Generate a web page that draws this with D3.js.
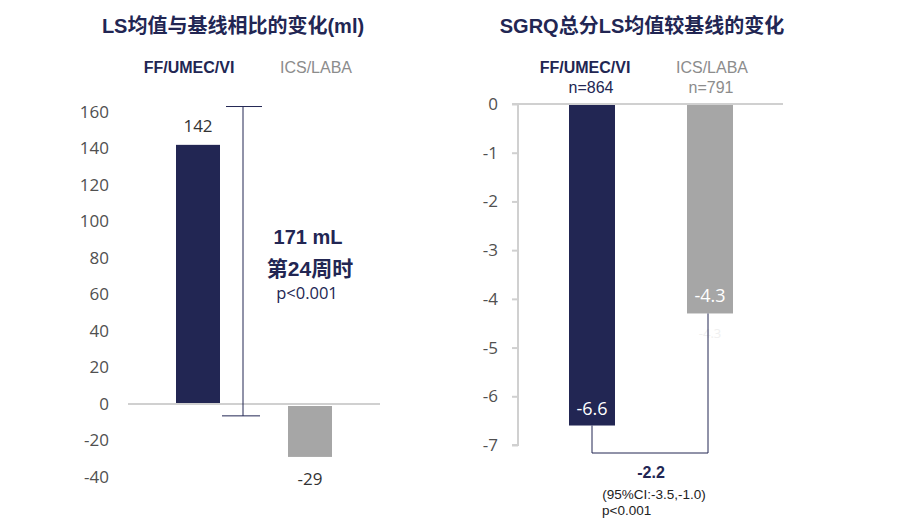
<!DOCTYPE html>
<html><head><meta charset="utf-8">
<script src="https://cdn.jsdelivr.net/npm/d3@7"></script>
<style>body{margin:0;background:#fff}svg{display:block}</style>
</head><body>
<svg id="c" width="899" height="528"></svg>
<script>
// ---- data ----
const categories = ["FF/UMEC/VI", "ICS/LABA"];
const lungValues = [142, -29];
const lungTicks = [160, 140, 120, 100, 80, 60, 40, 20, 0, -20, -40];
const lungBracket = [-6.5, 163];
const lungAnnot = ["171 mL", "第24周时", "p<0.001"];
const sgrqValues = [-6.6, -4.3];
const sgrqN = ["n=864", "n=791"];
const sgrqTicks = [0, -1, -2, -3, -4, -5, -6, -7];
const sgrqAnnot = ["-2.2", "(95%CI:-3.5,-1.0)", "p<0.001"];
const titles = ["LS均值与基线相比的变化(ml)", "SGRQ总分LS均值较基线的变化"];

const NAVY = "#222653", GRAY = "#a6a6a6", AX = "#d0d0d0", TICK = "#505050";
const FONT = "'Liberation Sans', Arial, 'Noto Sans CJK SC', sans-serif";
const TFONT = "'Open Sans', 'Liberation Sans', sans-serif";
const CJK = "'Liberation Sans', 'Noto Sans CJK SC', sans-serif";
const colors = [NAVY, GRAY];

const svg = d3.select("#c");

// ===== Left chart =====
const yL = d3.scaleLinear().domain([-40, 160]).range([477, 112]);
const xL = d3.scalePoint().domain(categories).range([198, 310]);
const bwL = 44;
const gL = svg.append("g");

gL.append("text").attr("x", 233).attr("y", 33).attr("text-anchor", "middle")
  .attr("font-family", CJK).attr("font-weight", "bold").attr("font-size", 20)
  .attr("fill", NAVY).text(titles[0]);

categories.forEach((c, i) => {
  gL.append("text").attr("x", i === 0 ? 189 : 316).attr("y", 73).attr("text-anchor", "middle")
    .attr("font-family", FONT).attr("font-size", 16)
    .attr("font-weight", i === 0 ? "bold" : "normal")
    .attr("fill", i === 0 ? NAVY : "#8c8c8c").text(c);
});

// ticks
gL.selectAll(".tl").data(lungTicks).join("text")
  .attr("x", 109).attr("y", d => yL(d)).attr("dy", "0.35em")
  .attr("text-anchor", "end").attr("font-family", TFONT).attr("font-size", 17)
  .attr("fill", TICK).text(d => d);

// bars
gL.selectAll(".bl").data(lungValues).join("rect")
  .attr("x", (d, i) => xL(categories[i]) - bwL / 2)
  .attr("y", d => d >= 0 ? yL(d) : yL(0) + 2)
  .attr("width", bwL)
  .attr("height", d => d >= 0 ? yL(0) - yL(d) : yL(d) - yL(0) - 2)
  .attr("fill", (d, i) => colors[i]);

// zero line
gL.append("line").attr("x1", 128).attr("x2", 380).attr("y1", yL(0)).attr("y2", yL(0))
  .attr("stroke", AX).attr("stroke-width", 2);

// value labels
gL.selectAll(".vl").data(lungValues).join("text")
  .attr("x", (d, i) => xL(categories[i]))
  .attr("y", d => d >= 0 ? yL(d) - 13 : yL(d) + 28)
  .attr("text-anchor", "middle").attr("font-family", TFONT).attr("font-size", 17)
  .attr("fill", "#333").text(d => d);

// bracket
const bx = 243;
gL.append("line").attr("x1", bx).attr("x2", bx).attr("y1", yL(lungBracket[1])).attr("y2", yL(lungBracket[0]))
  .attr("stroke", NAVY).attr("stroke-width", 1);
gL.append("line").attr("x1", 226).attr("x2", 262).attr("y1", yL(lungBracket[1])).attr("y2", yL(lungBracket[1]))
  .attr("stroke", NAVY).attr("stroke-width", 1);
gL.append("line").attr("x1", 222).attr("x2", 260).attr("y1", yL(lungBracket[0])).attr("y2", yL(lungBracket[0]))
  .attr("stroke", NAVY).attr("stroke-width", 1);

gL.append("text").attr("x", 308).attr("y", 244).attr("text-anchor", "middle")
  .attr("font-family", FONT).attr("font-weight", "bold").attr("font-size", 20).attr("fill", NAVY).text(lungAnnot[0]);
gL.append("text").attr("x", 310).attr("y", 276).attr("text-anchor", "middle")
  .attr("font-family", CJK).attr("font-weight", "bold").attr("font-size", 21).attr("fill", NAVY).text(lungAnnot[1]);
gL.append("text").attr("x", 307).attr("y", 299).attr("text-anchor", "middle")
  .attr("font-family", TFONT).attr("font-size", 16.5).attr("fill", NAVY).text(lungAnnot[2]);

// ===== Right chart =====
const yR = d3.scaleLinear().domain([-7, 0]).range([445, 104]);
const xR = d3.scalePoint().domain(categories).range([592, 710]);
const bwR = 46;
const gR = svg.append("g");

gR.append("text").attr("x", 642).attr("y", 33).attr("text-anchor", "middle")
  .attr("font-family", CJK).attr("font-weight", "bold").attr("font-size", 20)
  .attr("fill", NAVY).text(titles[1]);

categories.forEach((c, i) => {
  gR.append("text").attr("x", i === 0 ? 585 : 712).attr("y", 73).attr("text-anchor", "middle")
    .attr("font-family", FONT).attr("font-size", 16)
    .attr("font-weight", i === 0 ? "bold" : "normal")
    .attr("fill", i === 0 ? NAVY : "#8c8c8c").text(c);
  gR.append("text").attr("x", i === 0 ? 591 : 711).attr("y", 93).attr("text-anchor", "middle")
    .attr("font-family", FONT).attr("font-size", 16)
    .attr("fill", i === 0 ? NAVY : "#8c8c8c").text(sgrqN[i]);
});

// axis
const axR = d3.axisLeft(yR).tickValues(sgrqTicks).tickSize(6).tickPadding(14).tickFormat(d => d);
const ga = gR.append("g").attr("transform", "translate(518,0)").call(axR);
ga.select(".domain").attr("stroke", AX).attr("stroke-width", 2).attr("d", `M-6,${yR(-7)}H0V${yR(0)}`);
ga.selectAll(".tick line").attr("stroke", AX).attr("stroke-width", 2);
ga.selectAll(".tick text").attr("font-family", TFONT).attr("font-size", 17).attr("fill", TICK);

// bars
gR.selectAll(".br").data(sgrqValues).join("rect")
  .attr("x", (d, i) => xR(categories[i]) - bwR / 2)
  .attr("y", yR(0))
  .attr("width", bwR)
  .attr("height", d => yR(d) - yR(0))
  .attr("fill", (d, i) => colors[i]);

// zero line
gR.append("line").attr("x1", 512).attr("x2", 783).attr("y1", yR(0)).attr("y2", yR(0))
  .attr("stroke", AX).attr("stroke-width", 2);

// value labels inside bars
gR.selectAll(".vr").data(sgrqValues).join("text")
  .attr("x", (d, i) => xR(categories[i]))
  .attr("y", d => yR(d) - 11)
  .attr("text-anchor", "middle").attr("font-family", TFONT).attr("font-size", 18)
  .attr("fill", "#fff").text(d => d);
// faint ghost label
gR.append("text").attr("x", xR(categories[1])).attr("y", yR(sgrqValues[1]) + 25)
  .attr("text-anchor", "middle").attr("font-family", TFONT).attr("font-size", 13)
  .attr("fill", "#f0f0f0").text(sgrqValues[1]);

// bracket
const bY = 453;
gR.append("path")
  .attr("d", `M${xR(categories[0])},${yR(sgrqValues[0])}V${bY}H${xR(categories[1]) - 2}V${yR(sgrqValues[1])}`)
  .attr("fill", "none").attr("stroke", NAVY).attr("stroke-width", 1);

gR.append("text").attr("x", 651).attr("y", 478).attr("text-anchor", "middle")
  .attr("font-family", FONT).attr("font-weight", "bold").attr("font-size", 16).attr("fill", NAVY).text(sgrqAnnot[0]);
gR.append("text").attr("x", 654).attr("y", 499).attr("text-anchor", "middle")
  .attr("font-family", FONT).attr("font-size", 13.5).attr("fill", "#222").text(sgrqAnnot[1]);
gR.append("text").attr("x", 602).attr("y", 515).attr("text-anchor", "start")
  .attr("font-family", FONT).attr("font-size", 13.5).attr("fill", "#222").text(sgrqAnnot[2]);
</script>
</body></html>
